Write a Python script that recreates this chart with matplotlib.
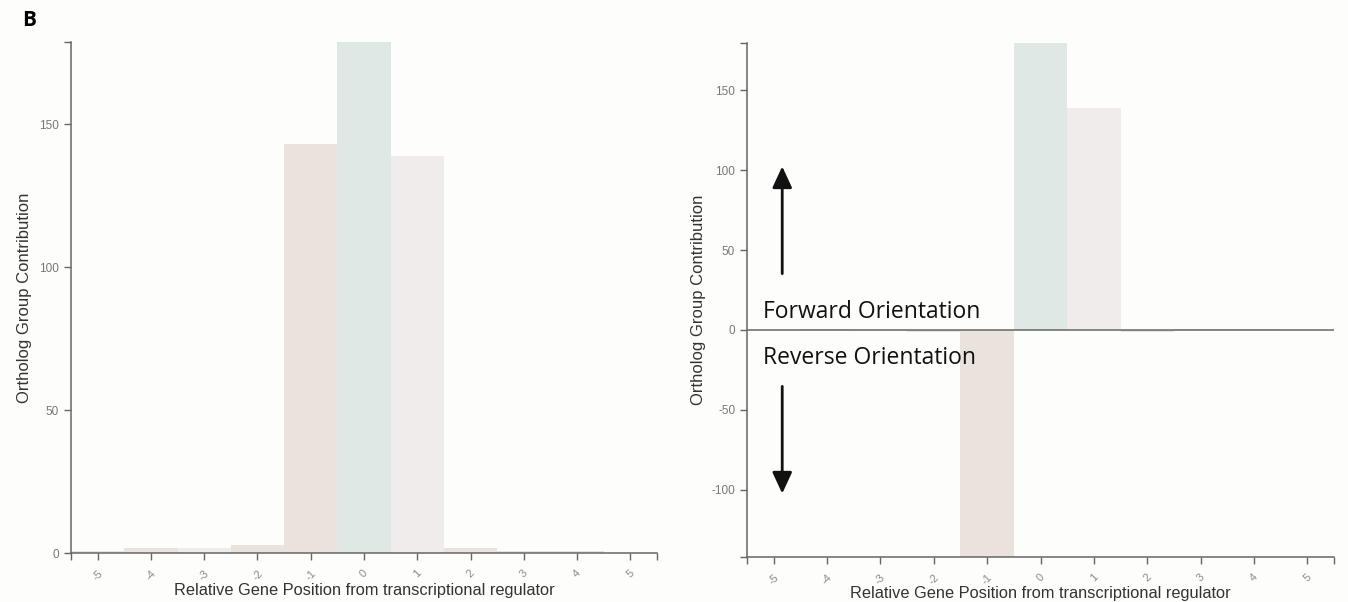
import matplotlib.pyplot as plt

# data
positions = [-5, -4, -3, -2, -1, 0, 1, 2, 3, 4, 5]
tick_labels = ["-5", "-4", "-3", "-2", "-1", "0", "1", "2", "3", "4", "5"]
total_contrib = [0.6, 1.7, 1.6, 2.8, 143, 185, 139, 1.7, 0.6, 0.6, 0]
oriented_contrib = [0, 0.5, 0.5, -1.2, -145, 185, 139, -1.2, 0.5, 0.5, 0]

beige = "#e9e2dd"
teal = "#dfe8e5"
pink = "#f0ecec"
blue = "#dde4e4"
bar_colors = [beige, beige, pink, beige, beige, teal, pink, beige, blue, blue, pink]
right_colors = [beige, blue, pink, beige, beige, teal, pink, beige, blue, blue, pink]

bg = "#fdfdfc"
axis_col = "#666666"
label_font = "Liberation Sans"

fig = plt.figure(figsize=(13.48, 6.02), dpi=100, facecolor=bg)
ax1 = fig.add_axes([71 / 1348, 1 - 553 / 602, 586 / 1348, 511 / 602])
ax2 = fig.add_axes([747 / 1348, 1 - 557 / 602, 587 / 1348, 514 / 602])


def style_axis(ax, ylim, yticks):
    ax.set_facecolor(bg)
    ax.set_xlim(-5.5, 5.5)
    ax.set_ylim(*ylim)
    for s in ["top", "right"]:
        ax.spines[s].set_visible(False)
    for s in ["left", "bottom"]:
        ax.spines[s].set_color(axis_col)
        ax.spines[s].set_linewidth(1.1)
    ax.set_xticks(positions)
    ax.set_xticklabels(tick_labels, rotation=45, ha="center",
                       fontsize=8, color="#8a8a8a", family=label_font)
    ax.set_yticks(yticks)
    ax.set_yticklabels([str(t) for t in yticks], fontsize=8.5,
                       color="#777777", family=label_font)
    # outer ticks at axis ends
    ax.set_xticks([-5.5, 5.5], minor=True)
    ax.set_yticks(list(ylim), minor=True)
    ax.tick_params(which="both", length=5, width=1, color=axis_col)
    ax.tick_params(axis="x", pad=6)
    ax.set_xlabel("Relative Gene Position from transcriptional regulator",
                  fontsize=11.8, family=label_font, color="#333333")
    ax.set_ylabel("Ortholog Group Contribution", fontsize=12,
                  family=label_font, color="#333333")


# left panel
ax1.bar(positions, total_contrib, width=1.0, color=bar_colors)
style_axis(ax1, (0, 178.7), [0, 50, 100, 150])
ax1.yaxis.set_label_coords(-0.066, 0.5)
ax1.xaxis.set_label_coords(0.5, -0.058)

# right panel
ax2.bar(positions, oriented_contrib, width=1.0, color=right_colors)
ax2.axhline(0, color=axis_col, lw=1.1)
style_axis(ax2, (-141.9, 179.4), [-100, -50, 0, 50, 100, 150])
ax2.yaxis.set_label_coords(-0.07, 0.5)
ax2.xaxis.set_label_coords(0.5, -0.056)

ax2.text(-5.2, 11, "Forward Orientation", fontsize=16.5, family="Open Sans",
         color="#111111", va="center", ha="left")
ax2.text(-5.2, -17.5, "Reverse Orientation", fontsize=16.5, family="Open Sans",
         color="#111111", va="center", ha="left")
ax2.annotate("", xy=(-4.84, 104), xytext=(-4.84, 33.5),
             arrowprops=dict(arrowstyle="-|>,head_length=1.3,head_width=0.6",
                             color="#111111", lw=2))
ax2.annotate("", xy=(-4.84, -104), xytext=(-4.84, -33.5),
             arrowprops=dict(arrowstyle="-|>,head_length=1.3,head_width=0.6",
                             color="#111111", lw=2))

fig.text(22 / 1348, 1 - 20 / 602, "B", fontsize=15, fontweight="bold",
         family="Open Sans", va="center", ha="left")

plt.savefig("out.png", dpi=100, facecolor=bg)
